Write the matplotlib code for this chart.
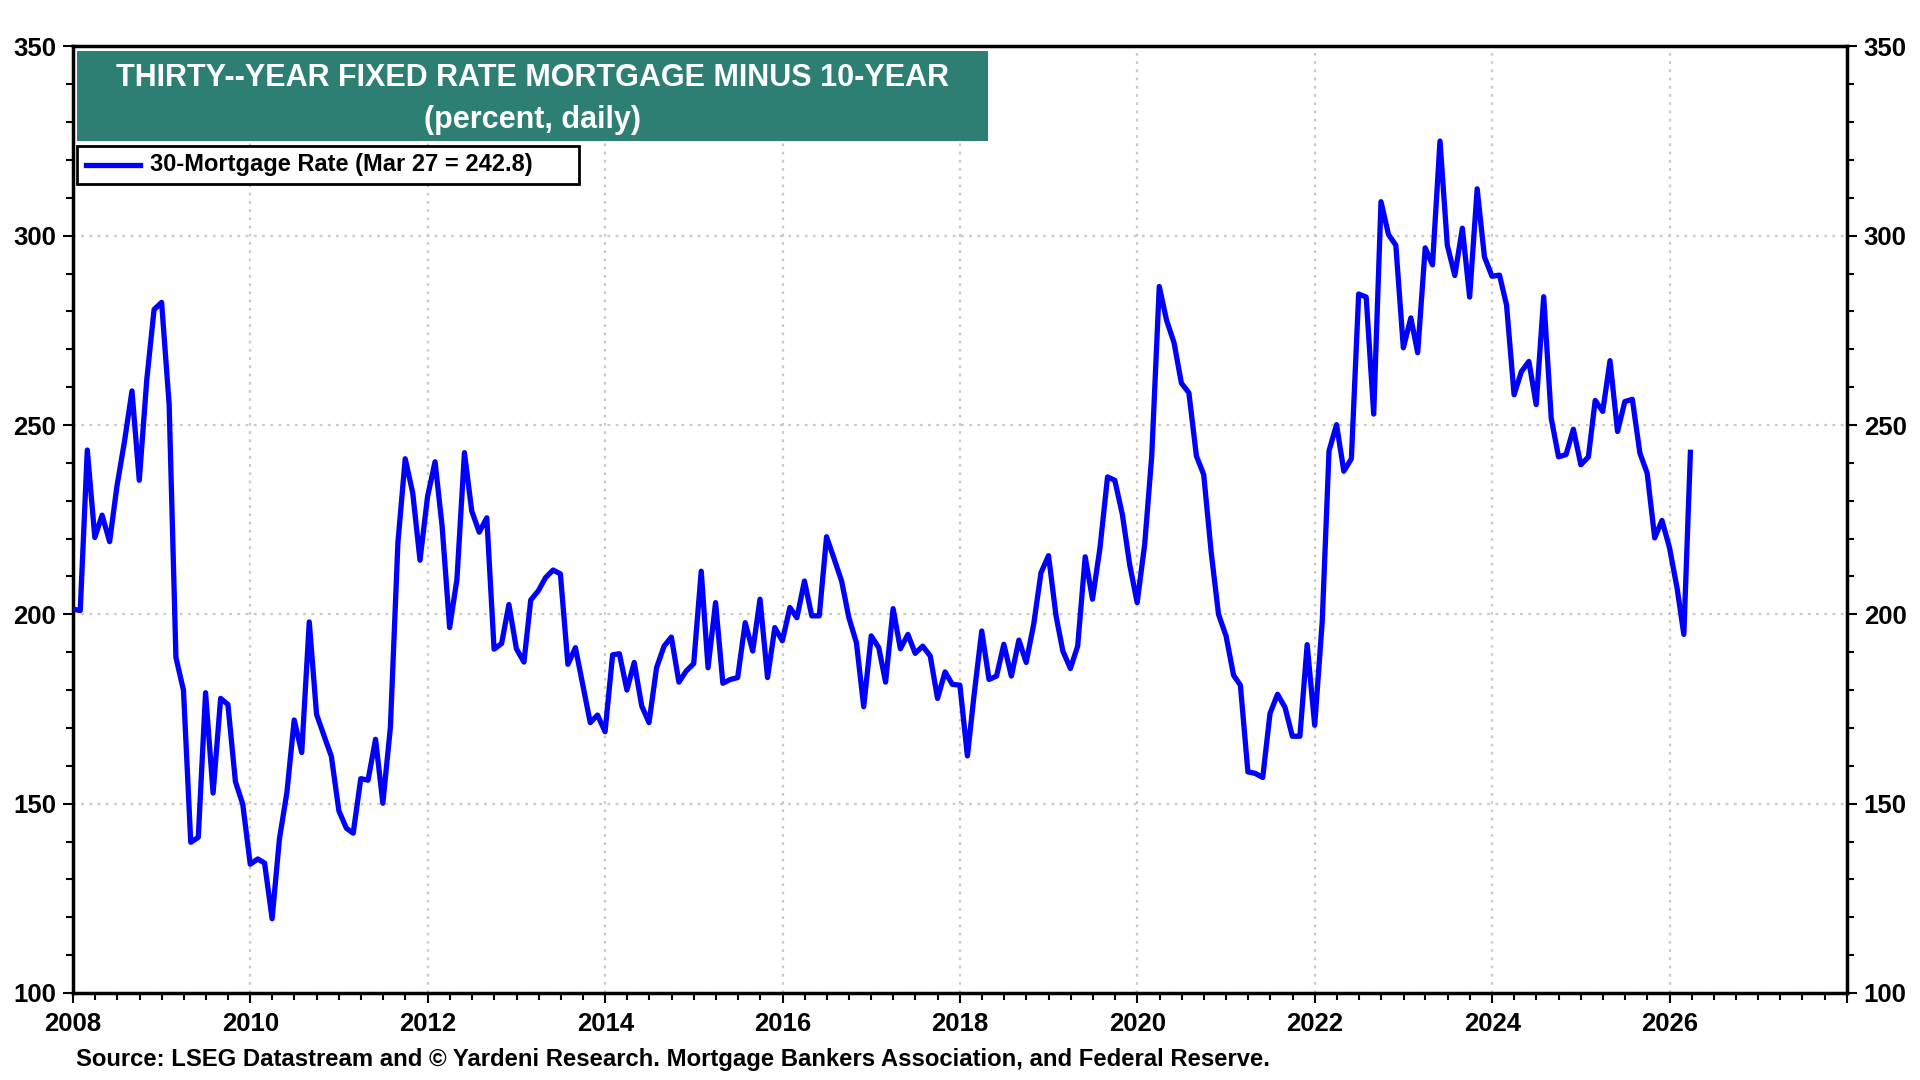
import pandas as pd
import matplotlib.pyplot as plt
import matplotlib.dates as mdates
from matplotlib.patches import Rectangle
from matplotlib.ticker import MultipleLocator

plt.rcParams['font.family'] = ['Liberation Sans', 'DejaVu Sans']
plt.rcParams['font.weight'] = 'bold'

# month-end readings, last one is Mar 27 2026
dates = list(pd.date_range('2007-12-31', periods=219, freq='ME')) + [pd.Timestamp('2026-03-27')]

spread = [
  201.4, 201.0, 243.4, 220.3, 226.2, 219.2, 233.8, 245.6, 259.0, 235.4, 262.0, 280.5,
  282.4, 255.5, 188.6, 180.0, 139.8, 141.1, 179.3, 152.8, 177.8, 176.2, 155.8, 149.9,
  134.0, 135.4, 134.3, 119.6, 140.6, 153.0, 172.1, 163.5, 198.0, 173.6, 167.9, 162.5,
  148.1, 143.5, 142.2, 156.6, 156.2, 167.0, 150.1, 170.1, 218.9, 241.1, 232.1, 214.3,
  231.1, 240.3, 223.3, 196.5, 209.2, 242.7, 227.3, 221.7, 225.5, 190.8, 192.3, 202.6,
  190.9, 187.4, 203.8, 206.2, 209.7, 211.7, 210.7, 186.8, 191.2, 181.5, 171.4, 173.4,
  169.0, 189.3, 189.6, 180.0, 187.3, 175.8, 171.4, 185.9, 191.6, 194.0, 182.1, 185.0,
  187.0, 211.4, 185.9, 203.1, 181.8, 182.8, 183.3, 197.8, 190.3, 204.0, 183.3, 196.5,
  193.0, 201.8, 199.1, 208.8, 199.6, 199.6, 220.5, 214.7, 208.8, 199.1, 192.5, 175.6,
  194.3, 191.2, 182.1, 201.5, 190.9, 194.7, 189.7, 191.6, 189.0, 177.8, 184.8, 181.5,
  181.3, 162.6, 179.0, 195.6, 182.8, 183.7, 192.1, 183.7, 193.2, 187.3, 197.4, 211.0,
  215.5, 199.6, 190.3, 185.7, 191.6, 215.2, 204.0, 217.6, 236.3, 235.4, 226.4, 213.2,
  203.1, 218.5, 241.8, 286.6, 277.7, 271.7, 261.1, 258.5, 241.8, 236.9, 216.3, 200.0,
  194.3, 183.9, 181.3, 158.4, 158.0, 156.9, 173.8, 178.9, 175.4, 167.8, 167.8, 192.0,
  170.7, 198.1, 243.2, 250.1, 237.8, 241.1, 284.6, 283.8, 252.9, 309.0, 300.3, 297.5,
  270.4, 278.3, 269.1, 296.8, 292.3, 325.0, 297.5, 289.5, 302.0, 283.8, 312.4, 294.4,
  289.3, 289.6, 281.7, 258.0, 264.1, 266.8, 255.4, 283.9, 251.8, 241.6, 242.2, 248.9,
  239.5, 241.6, 256.5, 253.6, 267.0, 248.3, 256.2, 256.8, 242.6, 237.3, 220.2, 224.8,
  217.6, 207.0, 194.7, 242.8,
]

title_lines = ['THIRTY--YEAR FIXED RATE MORTGAGE MINUS 10-YEAR', '(percent, daily)']
legend_label = '30-Mortgage Rate (Mar 27 = 242.8)'
source_note = ('Source: LSEG Datastream and \u00a9 Yardeni Research. '
               'Mortgage Bankers Association, and Federal Reserve.')

fig = plt.figure(figsize=(19.2, 10.8), dpi=100)
ax = fig.add_axes([0.038, 0.0806, 0.924, 0.8764])

ax.plot(dates, spread, color='#0000FF', linewidth=3.8, zorder=3)

ax.set_xlim(pd.Timestamp('2008-01-01'), pd.Timestamp('2028-01-01'))
ax.set_ylim(100, 350)
ax.xaxis.set_major_locator(mdates.YearLocator(2))
# no label at the right edge (2028)
ax.xaxis.set_major_formatter(lambda x, pos: '' if mdates.num2date(x).year >= 2028 else mdates.num2date(x).strftime('%Y'))
ax.xaxis.set_minor_locator(mdates.MonthLocator(bymonth=[1, 4, 7, 10]))
ax.yaxis.set_major_locator(MultipleLocator(50))
ax.yaxis.set_minor_locator(MultipleLocator(10))

ax.tick_params(axis='both', which='both', direction='out', labelsize=18.5, width=1.5)
ax.tick_params(axis='y', which='both', right=True, labelright=True)
ax.tick_params(which='major', length=7, pad=5)
ax.tick_params(which='minor', length=5)
ax.tick_params(axis='x', which='major', pad=7)
for lbl in ax.get_xticklabels() + ax.get_yticklabels():
  lbl.set_fontweight('bold')

for sp in ax.spines.values():
  sp.set_linewidth(2.5)

ax.grid(True, which='major', linestyle=(0, (1.2, 2.5)), color='#c8c8c8', linewidth=1.6, zorder=0)

# title box
ax.add_patch(Rectangle((0.0023, 0.8997), 0.5135, 0.095, transform=ax.transAxes,
                       facecolor='#2E7F73', edgecolor='none', zorder=5))
ax.text(0.259, 0.9668, title_lines[0], transform=ax.transAxes, ha='center', va='center',
        color='white', fontsize=22, fontweight='bold', zorder=6)
ax.text(0.259, 0.9219, title_lines[1], transform=ax.transAxes, ha='center', va='center',
        color='white', fontsize=22, fontweight='bold', zorder=6)

# legend box
ax.add_patch(Rectangle((0.0023, 0.8549), 0.2829, 0.040, transform=ax.transAxes,
                       facecolor='white', edgecolor='black', linewidth=2, zorder=5))
ax.plot([0.0073, 0.0378], [0.875, 0.875], transform=ax.transAxes, color='#0000FF',
        linewidth=3.8, zorder=6)
ax.text(0.0434, 0.875, legend_label, transform=ax.transAxes, ha='left', va='center',
        fontsize=17, fontweight='bold', color='black', zorder=6)

fig.text(0.0396, 0.0194, source_note, ha='left', va='center', fontsize=17.2, fontweight='bold')

fig.savefig('out.png', dpi=100)
